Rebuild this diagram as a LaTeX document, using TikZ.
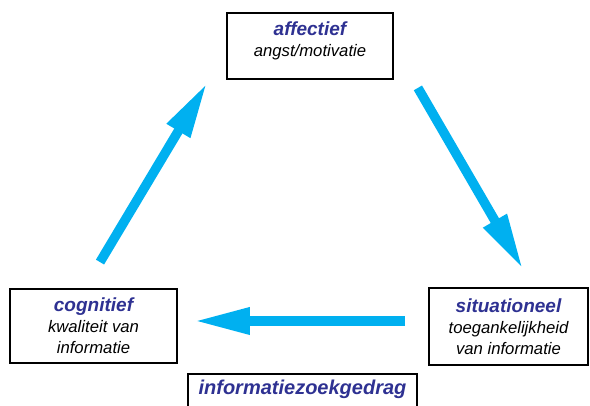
\documentclass[tikz,border=0pt]{standalone}
\usepackage{fontspec}
\setmainfont{Liberation Sans}
\usetikzlibrary{arrows.meta}
\definecolor{zgblue}{HTML}{2E3192}
\definecolor{zgcyan}{HTML}{00B0F0}
\newcommand\zgtitle[1]{{\fontsize{19}{21}\selectfont\bfseries\color{zgblue}#1}}
\tikzset{
  zg text/.style={font=\itshape\fontsize{16.7}{21}\selectfont, text=black},
  zg box/.style={draw=black, line width=1.8pt, fill=white, align=center, inner sep=2pt},
  zg arrow/.style={-{Triangle[length=56pt,width=25pt]}, line width=9.5pt,
    draw=zgcyan, line cap=butt},
  zg main/.style={font=\itshape\bfseries\fontsize{20}{22}\selectfont, text=zgblue}
}
\begin{document}
\begin{tikzpicture}[x=1pt, y=1pt, zg text]
  \useasboundingbox (0,0) rectangle (590,406);
  \node[zg box, minimum width=166pt, minimum height=66pt] (aff) at (310,360)
    {\zgtitle{affectief}\\angst/motivatie\rule[-13.5pt]{0pt}{0pt}};
  \node[zg box, minimum width=167pt, minimum height=74pt] (cog) at (93.5,80)
    {\zgtitle{cognitief}\\kwaliteit van\\informatie};
  \node[zg box, minimum width=159pt, minimum height=77pt] (sit) at (508.5,79.5)
    {\zgtitle{situationeel}\\toegankelijkheid\\van informatie};
  \node[zg box, zg main, minimum width=229pt, inner ysep=6pt, text height=15pt,
    text depth=20pt, anchor=north] (zg) at (302.5,33) {informatiezoekgedrag};
  \draw[zg arrow] ([shift={(6.5,26)}]cog.north) -- ([shift={(-19,-3)}]aff.south west);
  \draw[zg arrow] ([shift={(24,-8)}]aff.south east) -- ([shift={(14.5,18)}]sit.north);
  \draw[zg arrow] ([shift={(-23,5.5)}]sit.west) -- ([shift={(16,5)}]cog.east);
\end{tikzpicture}
\end{document}
